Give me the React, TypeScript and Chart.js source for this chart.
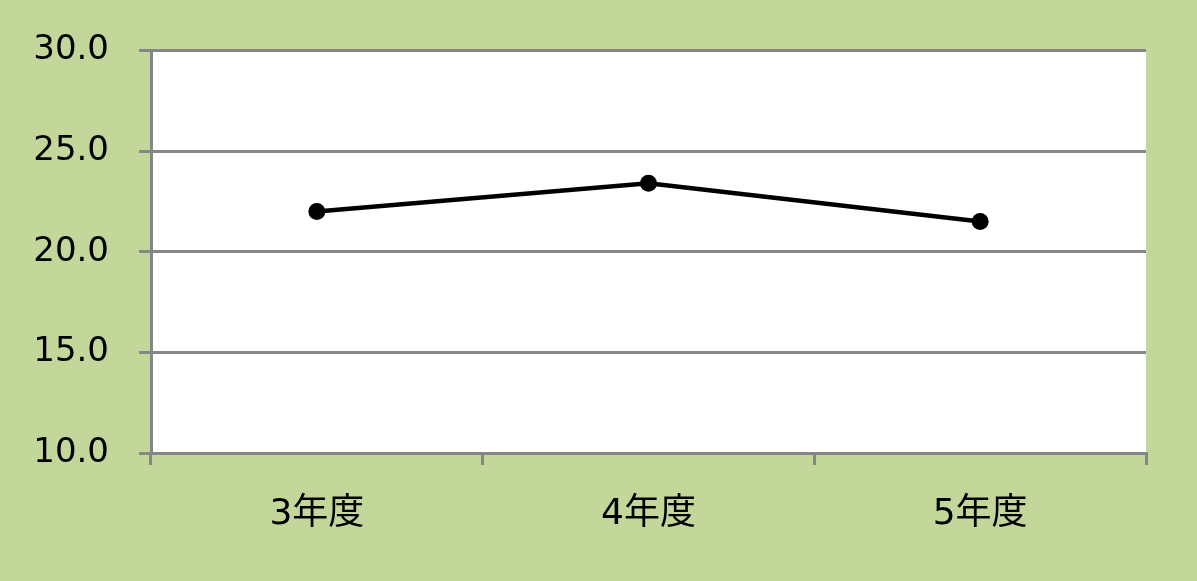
import { useEffect, useRef } from "react"
import { Chart, registerables } from "chart.js"

Chart.register(...registerables)

const categories = ["3年度", "4年度", "5年度"]
const values = [22.0, 23.4, 21.5]
const yMin = 10
const yMax = 30
const yStep = 5

const FONT = "'DejaVu Sans', 'Noto Sans CJK JP', sans-serif"
const GRID = "#868686"

// white plot area on the green page
const plotBg = {
  id: "plotBg",
  beforeDraw(chart: Chart) {
    const { ctx, chartArea } = chart
    ctx.save()
    ctx.fillStyle = "#ffffff"
    ctx.fillRect(chartArea.left, chartArea.top, chartArea.right - chartArea.left, chartArea.bottom - chartArea.top)
    ctx.restore()
  },
}

export default function App() {
  const chartRef = useRef<HTMLCanvasElement>(null)
  const chartInstance = useRef<Chart | null>(null)

  useEffect(() => {
    document.body.style.margin = "0"
    document.body.style.background = "#c4d79b"
    if (!chartRef.current) return
    if (chartInstance.current) chartInstance.current.destroy()
    const ctx = chartRef.current.getContext("2d")
    if (!ctx) return

    chartInstance.current = new Chart(ctx, {
      type: "line",
      data: {
        labels: categories,
        datasets: [
          {
            data: values,
            borderColor: "#000000",
            backgroundColor: "#000000",
            borderWidth: 4.5,
            pointRadius: 8.5,
            pointBorderWidth: 0,
            tension: 0,
          },
        ],
      },
      plugins: [plotBg],
      options: {
        responsive: true,
        maintainAspectRatio: false,
        animation: false,
        layout: { padding: { left: 0, top: 50, right: 51, bottom: 0 } },
        plugins: { legend: { display: false }, tooltip: { enabled: false } },
        scales: {
          x: {
            offset: true,
            grid: {
              offset: true,
              drawOnChartArea: false,
              drawTicks: true,
              tickLength: 12,
              color: GRID,
              lineWidth: 3,
            },
            border: { display: true, color: GRID, width: 3 },
            ticks: {
              color: "#000000",
              padding: 28,
              font: { family: FONT, size: 36 },
            },
            afterFit: (scale) => {
              scale.height = 128
            },
          },
          y: {
            min: yMin,
            max: yMax,
            grid: { color: GRID, lineWidth: 3, tickLength: 12 },
            border: { display: true, color: GRID, width: 3 },
            ticks: {
              stepSize: yStep,
              color: "#000000",
              padding: 30,
              font: { family: FONT, size: 34 },
              callback: (v) => Number(v).toFixed(1),
            },
            afterFit: (scale) => {
              scale.width = 151
            },
          },
        },
      },
    })

    return () => {
      if (chartInstance.current) chartInstance.current.destroy()
    }
  }, [])

  return (
    <div style={{ width: "1197px", height: "581px", background: "#c4d79b" }}>
      <canvas ref={chartRef} />
    </div>
  )
}
